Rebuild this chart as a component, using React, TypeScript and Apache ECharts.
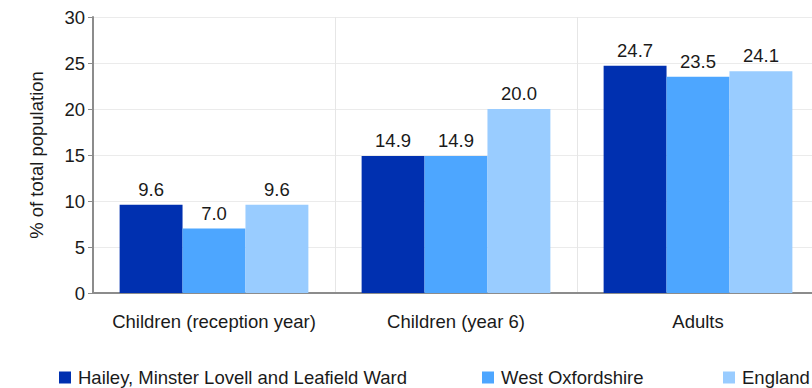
import React, { useEffect, useRef } from "react";
import * as echarts from "echarts";

const categories = ["Children (reception year)", "Children (year 6)", "Adults"];
const seriesNames = ["Hailey, Minster Lovell and Leafield Ward", "West Oxfordshire", "England"];
const hailey = [9.6, 14.9, 24.7];
const westOx = [7.0, 14.9, 23.5];
const england = [9.6, 20.0, 24.1];
const colors = ["#0030B0", "#4DA6FF", "#99CCFF"];
const legendLefts = [59, 482, 723];

const FONT = "'Liberation Sans', Arial, sans-serif";
const FS = 18.5;

export default function App() {
  const ref = useRef<HTMLDivElement>(null);
  useEffect(() => {
    if (!ref.current) return;
    const chart = echarts.init(ref.current, undefined, { renderer: "svg" });
    const values = [hailey, westOx, england];
    chart.setOption({
      animation: false,
      textStyle: { fontFamily: FONT },
      grid: { left: 93, top: 17, width: 726, height: 276, containLabel: false },
      legend: seriesNames.map((n, i) => ({
        data: [n],
        left: legendLefts[i],
        top: 368,
        itemWidth: 12,
        itemHeight: 12,
        icon: "rect",
        itemGap: 0,
        textStyle: { fontSize: FS, color: "#1a1a1a", fontFamily: FONT, padding: [0, 0, 0, 2] },
        padding: 0,
      })),
      xAxis: {
        type: "category",
        data: categories,
        axisLine: { lineStyle: { color: "#8c8c8c", width: 2 } },
        axisTick: { show: false },
        axisLabel: { interval: 0, fontSize: FS, color: "#1a1a1a", margin: 19, fontFamily: FONT },
        splitLine: { show: true, lineStyle: { color: "#e6e6e6", width: 1 } },
      },
      yAxis: {
        type: "value",
        min: 0,
        max: 30,
        interval: 5,
        name: "% of total population",
        nameLocation: "middle",
        nameGap: 47,
        nameTextStyle: { fontSize: FS, color: "#1a1a1a", fontFamily: FONT },
        axisLine: { show: true, lineStyle: { color: "#8c8c8c", width: 2 } },
        axisTick: { show: true, length: 5, lineStyle: { color: "#8c8c8c", width: 1 } },
        axisLabel: { fontSize: FS, color: "#1a1a1a", margin: 8, fontFamily: FONT },
        splitLine: { show: true, lineStyle: { color: "#ebebeb", width: 1 } },
      },
      series: seriesNames.map((n, i) => ({
        name: n,
        type: "bar",
        data: values[i],
        barGap: "0%",
        barCategoryGap: "22%",
        itemStyle: { color: colors[i] },
        label: {
          show: true,
          position: "top",
          distance: 6,
          fontSize: FS,
          color: "#1a1a1a",
          fontFamily: FONT,
          formatter: (p: any) => Number(p.value).toFixed(1),
        },
      })),
    });
    return () => chart.dispose();
  }, []);
  return (
    <div style={{ width: 812, height: 388, position: "absolute", left: 0, top: 0, overflow: "hidden" }}>
      <div ref={ref} style={{ width: 830, height: 388 }} />
    </div>
  );
}
